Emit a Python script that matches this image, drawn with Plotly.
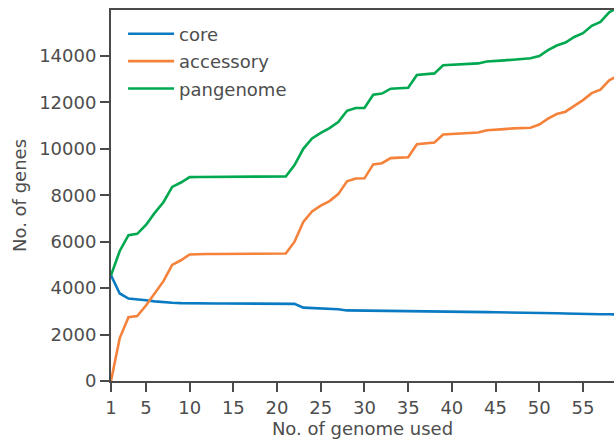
import plotly.graph_objects as go

n_genomes = list(range(1, 60))

core = [4550, 3770, 3550, 3530, 3480, 3430, 3390, 3370, 3355, 3345,
        3340, 3340, 3340, 3340, 3340, 3340, 3340, 3340, 3340, 3340,
        3340, 3320, 3160, 3150, 3140, 3130, 3090, 3040, 3035, 3030,
        3000, 2995, 2990, 2990, 2990, 2980, 2980, 2978, 2975, 2975,
        2975, 2972, 2970, 2965, 2962, 2960, 2958, 2955, 2955, 2950,
        2935, 2920, 2905, 2890, 2880, 2878, 2875, 2872, 2870]

accessory = [0, 1850, 2750, 2800, 3250, 3800, 4300, 5000, 5200, 5450,
             5470, 5470, 5472, 5474, 5476, 5478, 5480, 5482, 5484, 5486,
             5490, 6000, 6850, 7300, 7550, 7750, 8050, 8600, 8720, 8730,
             9330, 9380, 9600, 9620, 9640, 10200, 10250, 10270, 10620, 10640,
             10650, 10680, 10700, 10800, 10810, 10850, 10880, 10900, 10910, 11050,
             11300, 11500, 11600, 11850, 12100, 12400, 12550, 12950, 13150]

pangenome = [4550, 5600, 6280, 6340, 6720, 7240, 7700, 8360, 8550, 8780,
             8790, 8790, 8792, 8794, 8796, 8798, 8800, 8802, 8804, 8806,
             8810, 9300, 10000, 10450, 10690, 10890, 11150, 11640, 11760, 11760,
             12330, 12380, 12590, 12610, 12630, 13180, 13230, 13250, 13600, 13620,
             13630, 13650, 13680, 13760, 13770, 13810, 13840, 13860, 13900, 14000,
             14250, 14450, 14580, 14820, 14980, 15300, 15470, 15880, 16100]

series = [("core", core, "#0a7bc2"),
          ("accessory", accessory, "#f5823a"),
          ("pangenome", pangenome, "#00a84f")]

fig = go.Figure()
for name, vals, color in series:
    fig.add_trace(go.Scatter(x=n_genomes, y=vals, mode="lines", name=name,
                             legendgroup=name,
                             line=dict(color=color, width=2.6)))

axis_color = "#4a4a4a"
text_color = "#4d4d4d"
fig.update_layout(
    width=614, height=442,
    margin=dict(l=111, r=0, t=10, b=61, autoexpand=False),
    paper_bgcolor="white", plot_bgcolor="white",
    font=dict(family="DejaVu Sans", size=18, color=text_color),
    legend=dict(x=0.024, y=0.985, xanchor="left", yanchor="top",
                bgcolor="rgba(0,0,0,0)", font=dict(size=18, color=text_color),
                tracegroupgap=1, itemwidth=46),
    showlegend=True,
)
fig.update_xaxes(
    range=[1, 58.55], tickvals=[1, 5, 10, 15, 20, 25, 30, 35, 40, 45, 50, 55],
    tickformat="d", automargin=False,
    showgrid=False, zeroline=False, showline=True, linecolor=axis_color, linewidth=2,
    mirror=True, ticks="outside", ticklen=9, tickwidth=1.6, tickcolor=axis_color,
    tickfont=dict(size=18, color=text_color),
    title=dict(text="No. of genome used", font=dict(size=18, color=text_color), standoff=3),
)
fig.update_yaxes(
    range=[0, 15980], tickvals=[0, 2000, 4000, 6000, 8000, 10000, 12000, 14000],
    tickformat="d", automargin=False,
    showgrid=False, zeroline=False, showline=True, linecolor=axis_color, linewidth=2,
    mirror=False, ticks="outside", ticklen=9, tickwidth=1.6, tickcolor=axis_color,
    tickfont=dict(size=18, color=text_color),
    title=dict(text="No. of genes", font=dict(size=18, color=text_color), standoff=8),
)

fig.write_html("out.html",
               config={"displayModeBar": False},
               post_script="document.body.style.margin='0';document.body.style.overflow='hidden';")
